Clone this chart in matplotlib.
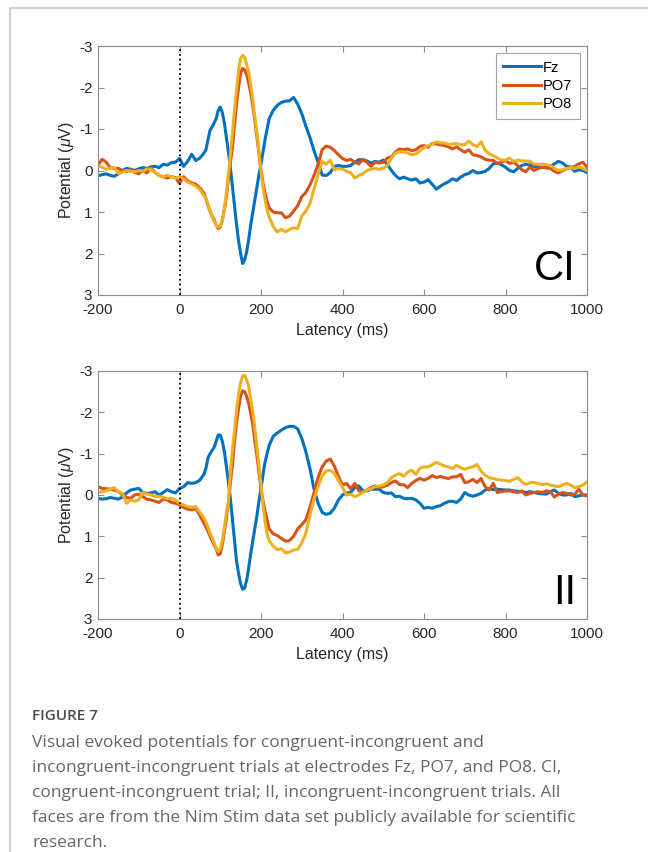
import numpy as np
import matplotlib.pyplot as plt
from matplotlib.lines import Line2D

plt.rcParams['font.family'] = ['Liberation Sans', 'DejaVu Sans']
plt.rcParams['axes.unicode_minus'] = False
plt.rcParams['mathtext.fontset'] = 'custom'
plt.rcParams['mathtext.rm'] = 'Liberation Sans'
plt.rcParams['mathtext.it'] = 'Liberation Sans:italic'

# latency grid (ms), finer around the early components
latency = np.r_[-200:60:10, 60:220:5, 220:1001:10]

# congruent-incongruent (CI)
ci_fz = [0.13, 0.1, 0.08, 0.12, 0.14, 0.08, 0.0, -0.05, -0.03, 0.0, -0.04, -0.07, -0.05,
         -0.09, -0.1, -0.07, -0.15, -0.13, -0.19, -0.2, -0.29, -0.1, -0.22, -0.39, -0.24, -0.3,
         -0.42, -0.5, -0.75, -0.97, -1.05, -1.15, -1.25, -1.45, -1.53, -1.4, -1.15, -0.8, -0.45,
         -0.05, 0.4, 0.85, 1.3, 1.7, 2.0, 2.24, 2.15, 1.95, 1.65, 1.3, 1.0, 0.7, 0.4, 0.1,
         -0.15, -0.45, -0.75, -1.0,
         -1.25, -1.45, -1.57, -1.64, -1.67, -1.68, -1.76, -1.6, -1.37, -1.07, -0.8, -0.48, -0.2,
         0.11, 0.12, 0.05, -0.1, -0.12, -0.1, -0.1, -0.12, -0.2, -0.26, -0.26, -0.23, -0.18,
         -0.22, -0.2, -0.25, -0.15, 0.0, 0.12, 0.2, 0.16, 0.2, 0.23, 0.2, 0.3, 0.28, 0.22, 0.33,
         0.45, 0.38, 0.32, 0.27, 0.2, 0.24, 0.16, 0.1, 0.07, 0.0, 0.06, 0.05, 0.02, -0.05, -0.16,
         -0.18, -0.14, -0.08, 0.0, 0.03, -0.05, -0.12, -0.15, -0.13, -0.1, -0.08, -0.07, -0.1,
         -0.1, -0.16, -0.22, -0.18, -0.1, -0.08, 0.02, -0.02, 0.0, 0.05]
ci_po7 = [-0.13, -0.27, -0.2, -0.07, -0.05, -0.05, 0.0, 0.03, -0.03, 0.05, 0.08, 0.0, 0.06,
          -0.07, 0.05, 0.12, 0.15, 0.18, 0.15, 0.17, 0.31, 0.15, 0.25, 0.3, 0.33, 0.42,
          0.55, 0.68, 0.85, 0.98, 1.1, 1.18, 1.32, 1.4, 1.36, 1.2, 0.95, 0.65, 0.2, -0.2, -0.55,
          -1.1, -1.6, -2.0, -2.35, -2.46, -2.42, -2.3, -2.1, -1.85, -1.55, -1.2, -0.8, -0.4, 0.0,
          0.3, 0.55, 0.75,
          0.9, 1.0, 1.02, 1.02, 1.14, 1.1, 0.98, 0.85, 0.63, 0.53, 0.35, 0.12, -0.15, -0.5, -0.59,
          -0.56, -0.48, -0.38, -0.29, -0.24, -0.27, -0.2, -0.16, -0.26, -0.2, -0.1, -0.2, -0.18,
          -0.2, -0.3, -0.33, -0.45, -0.52, -0.5, -0.52, -0.48, -0.5, -0.58, -0.6, -0.56, -0.65,
          -0.64, -0.62, -0.6, -0.57, -0.52, -0.57, -0.5, -0.44, -0.5, -0.38, -0.36, -0.33, -0.27,
          -0.25, -0.24, -0.17, -0.2, -0.24, -0.17, -0.2, -0.12, -0.02, 0.03, -0.08, 0.0, -0.05,
          -0.08, -0.06, -0.05, 0.02, 0.06, 0.0, -0.04, -0.07, -0.1, -0.16, -0.2, -0.08]
ci_po8 = [-0.13, -0.08, -0.03, -0.06, -0.07, 0.07, 0.04, 0.0, 0.02, 0.03, 0.0, 0.02, -0.04,
          -0.03, 0.05, 0.12, 0.15, 0.12, 0.15, 0.19, 0.15, 0.2, 0.28, 0.32, 0.38, 0.46,
          0.6, 0.68, 0.82, 0.96, 1.12, 1.22, 1.32, 1.37, 1.33, 1.2, 0.95, 0.55, 0.1, -0.4, -0.9,
          -1.45, -1.95, -2.42, -2.7, -2.78, -2.72, -2.55, -2.35, -2.05, -1.7, -1.3, -0.9, -0.45,
          0.0, 0.4, 0.7, 0.95,
          1.12, 1.35, 1.48, 1.42, 1.48, 1.42, 1.38, 1.4, 1.1, 0.98, 0.8, 0.45, 0.1, -0.22, -0.15,
          -0.25, -0.02, -0.05, -0.03, 0.02, 0.05, 0.18, 0.12, 0.08, 0.0, -0.03, -0.05, -0.03,
          -0.05, -0.12, -0.3, -0.42, -0.45, -0.45, -0.42, -0.38, -0.4, -0.47, -0.55, -0.6, -0.63,
          -0.69, -0.67, -0.66, -0.63, -0.64, -0.65, -0.62, -0.62, -0.71, -0.62, -0.58, -0.69,
          -0.49, -0.4, -0.36, -0.3, -0.25, -0.25, -0.3, -0.22, -0.25, -0.23, -0.23, -0.22, -0.15,
          -0.15, -0.15, -0.14, -0.12, -0.05, 0.0, -0.02, -0.05, -0.07, -0.05, -0.09, -0.05, 0.0]

# incongruent-incongruent (II)
ii_fz = [0.08, 0.1, 0.09, 0.06, 0.08, 0.1, 0.05, -0.05, -0.12, -0.14, -0.16, -0.06, -0.04,
         -0.05, -0.08, 0.0, -0.06, -0.13, -0.08, -0.05, -0.16, -0.2, -0.3, -0.28, -0.3, -0.36,
         -0.5, -0.65, -0.9, -1.0, -1.08, -1.15, -1.3, -1.45, -1.45, -1.3, -1.05, -0.7, -0.32,
         0.1, 0.6, 1.1, 1.6, 1.9, 2.15, 2.28, 2.25, 2.05, 1.75, 1.4, 1.1, 0.8, 0.5, 0.15, -0.15,
         -0.5, -0.8, -1.0,
         -1.2, -1.42, -1.5, -1.57, -1.63, -1.66, -1.66, -1.6, -1.37, -1.05, -0.65, -0.15, 0.2,
         0.42, 0.47, 0.44, 0.32, 0.12, 0.0, -0.05, -0.06, -0.18, -0.22, -0.1, -0.1, -0.14,
         -0.14, -0.14, -0.06, -0.04, -0.05, 0.04, 0.03, 0.08, 0.09, 0.08, 0.12, 0.2, 0.32, 0.3,
         0.32, 0.28, 0.26, 0.2, 0.16, 0.15, 0.18, 0.1, -0.06, 0.0, 0.03, 0.0, -0.04, -0.12,
         -0.16, -0.13, -0.14, -0.13, -0.12, -0.12, -0.1, -0.09, -0.08, -0.06, -0.08, -0.06,
         -0.04, -0.03, -0.02, -0.08, -0.12, -0.04, 0.0, 0.0, -0.04, 0.04, 0.02, 0.0, 0.0]
ii_po7 = [-0.2, -0.16, -0.15, -0.14, -0.12, -0.08, 0.0, 0.06, 0.08, 0.0, -0.02, 0.04, 0.1,
          0.12, 0.15, 0.18, 0.1, 0.12, 0.18, 0.2, 0.24, 0.3, 0.34, 0.36, 0.32, 0.5,
          0.68, 0.78, 0.88, 1.0, 1.1, 1.2, 1.3, 1.45, 1.42, 1.2, 0.9, 0.55, 0.2, -0.3, -0.75,
          -1.3, -1.75, -2.1, -2.4, -2.52, -2.5, -2.38, -2.2, -1.95, -1.7, -1.3, -0.95, -0.55,
          -0.15, 0.15, 0.4, 0.6,
          0.82, 0.94, 0.98, 1.05, 1.12, 1.1, 1.0, 0.82, 0.72, 0.6, 0.3, -0.05, -0.42, -0.68,
          -0.82, -0.87, -0.7, -0.45, -0.24, -0.28, -0.15, -0.28, -0.1, -0.07, -0.12, -0.18,
          -0.22, -0.18, -0.2, -0.24, -0.3, -0.34, -0.25, -0.25, -0.18, -0.28, -0.35, -0.4,
          -0.36, -0.4, -0.47, -0.42, -0.45, -0.42, -0.4, -0.44, -0.44, -0.5, -0.3, -0.32, -0.38,
          -0.3, -0.4, -0.2, -0.12, -0.28, -0.06, -0.08, -0.1, -0.1, -0.08, -0.06, -0.1, 0.0,
          -0.04, -0.06, -0.08, -0.06, -0.1, -0.08, 0.05, -0.02, -0.06, -0.04, 0.0, -0.02, -0.14,
          0.0, 0.02]
ii_po8 = [-0.06, -0.08, -0.1, -0.14, -0.18, -0.08, -0.04, 0.2, 0.12, 0.15, 0.12, -0.06, -0.02,
          0.0, 0.03, 0.04, 0.05, 0.09, 0.08, 0.12, 0.2, 0.24, 0.28, 0.3, 0.28, 0.42,
          0.55, 0.65, 0.78, 0.92, 1.04, 1.15, 1.28, 1.37, 1.3, 1.1, 0.8, 0.45, 0.16, -0.55, -1.1,
          -1.55, -2.05, -2.45, -2.72, -2.88, -2.9, -2.78, -2.62, -2.3, -2.0, -1.6, -1.15, -0.7,
          -0.25, 0.25, 0.64, 0.95,
          1.1, 1.24, 1.32, 1.3, 1.4, 1.38, 1.33, 1.32, 1.16, 0.92, 0.5, 0.1, -0.2, -0.46, -0.58,
          -0.6, -0.52, -0.35, -0.18, 0.0, -0.02, 0.04, 0.0, -0.06, -0.12, -0.15, -0.2, -0.22,
          -0.24, -0.3, -0.42, -0.48, -0.52, -0.45, -0.55, -0.6, -0.5, -0.65, -0.68, -0.68, -0.73,
          -0.79, -0.75, -0.7, -0.68, -0.64, -0.72, -0.66, -0.62, -0.66, -0.68, -0.74, -0.58,
          -0.48, -0.42, -0.4, -0.37, -0.36, -0.35, -0.33, -0.38, -0.42, -0.32, -0.25, -0.3, -0.3,
          -0.28, -0.25, -0.27, -0.24, -0.22, -0.2, -0.24, -0.28, -0.24, -0.18, -0.2, -0.24, -0.32]

colors = ['#0072BD', '#D95319', '#EDB120']
names = ['Fz', 'PO7', 'PO8']
grey = '#8c8c8c'
dark = '#262626'

fig = plt.figure(figsize=(6.48, 8.52), dpi=100)

# page frame lines (top and left)
fig.add_artist(Line2D([10/648, 1], [1 - 8/852, 1 - 8/852], color='#cfcfcf', lw=1.5))
fig.add_artist(Line2D([10/648, 10/648], [0, 1 - 8/852], color='#cfcfcf', lw=1.5))


def panel(ax, series, tag, legend=False):
    for vals, c, n in zip(series, colors, names):
        ax.plot(latency, vals, color=c, lw=2.2, label=n)
    ax.axvline(0, color='k', ls=':', lw=1.3)
    ax.set_xlim(-200, 1000)
    ax.set_ylim(3, -3)
    ax.set_xticks(range(-200, 1001, 200))
    ax.set_yticks(range(-3, 4))
    ax.tick_params(direction='in', top=True, right=True, length=4, width=0.8,
                   colors=grey, labelcolor=dark, labelsize=11)
    ax.tick_params(axis='x', pad=6)
    ax.tick_params(axis='y', pad=4)
    for s in ax.spines.values():
        s.set_color(grey)
        s.set_linewidth(0.8)
    ax.set_xlabel('Latency (ms)', fontsize=11.5, color=dark, labelpad=4)
    ax.set_ylabel(r'Potential ($\mu$V)', fontsize=11.5, color=dark, labelpad=2)
    ax.text(0.977, 0.025, tag, transform=ax.transAxes, ha='right', va='bottom',
            fontsize=30, color='k')
    if legend:
        lg = ax.legend(loc='upper right', fontsize=10.5, frameon=True, fancybox=False,
                       handlelength=2.6, handletextpad=0.15, borderpad=0.5, labelspacing=0.3,
                       borderaxespad=0.5)
        lg.get_frame().set_edgecolor(grey)
        lg.get_frame().set_linewidth(0.8)


ax1 = fig.add_axes([98/648, 1 - 295/852, 489/648, 249/852])
panel(ax1, [ci_fz, ci_po7, ci_po8], 'CI', legend=True)
ax2 = fig.add_axes([98/648, 1 - 619/852, 489/648, 248/852])
panel(ax2, [ii_fz, ii_po7, ii_po8], 'II')

fig.text(32/648, 1 - 716/852, 'FIGURE 7', fontsize=11, color='#4a4a4a', fontweight='semibold',
         family=['Open Sans', 'DejaVu Sans'], va='center')
caption = ('Visual evoked potentials for congruent-incongruent and\n'
           'incongruent-incongruent trials at electrodes Fz, PO7, and PO8. CI,\n'
           'congruent-incongruent trial; II, incongruent-incongruent trials. All\n'
           'faces are from the Nim Stim data set publicly available for scientific\n'
           'research.')
fig.text(32/648, 1 - 735/852, caption, fontsize=12.5, color='#666666',
         family=['Open Sans', 'DejaVu Sans'], va='top', linespacing=1.74)

fig.savefig('out.png', dpi=100)
